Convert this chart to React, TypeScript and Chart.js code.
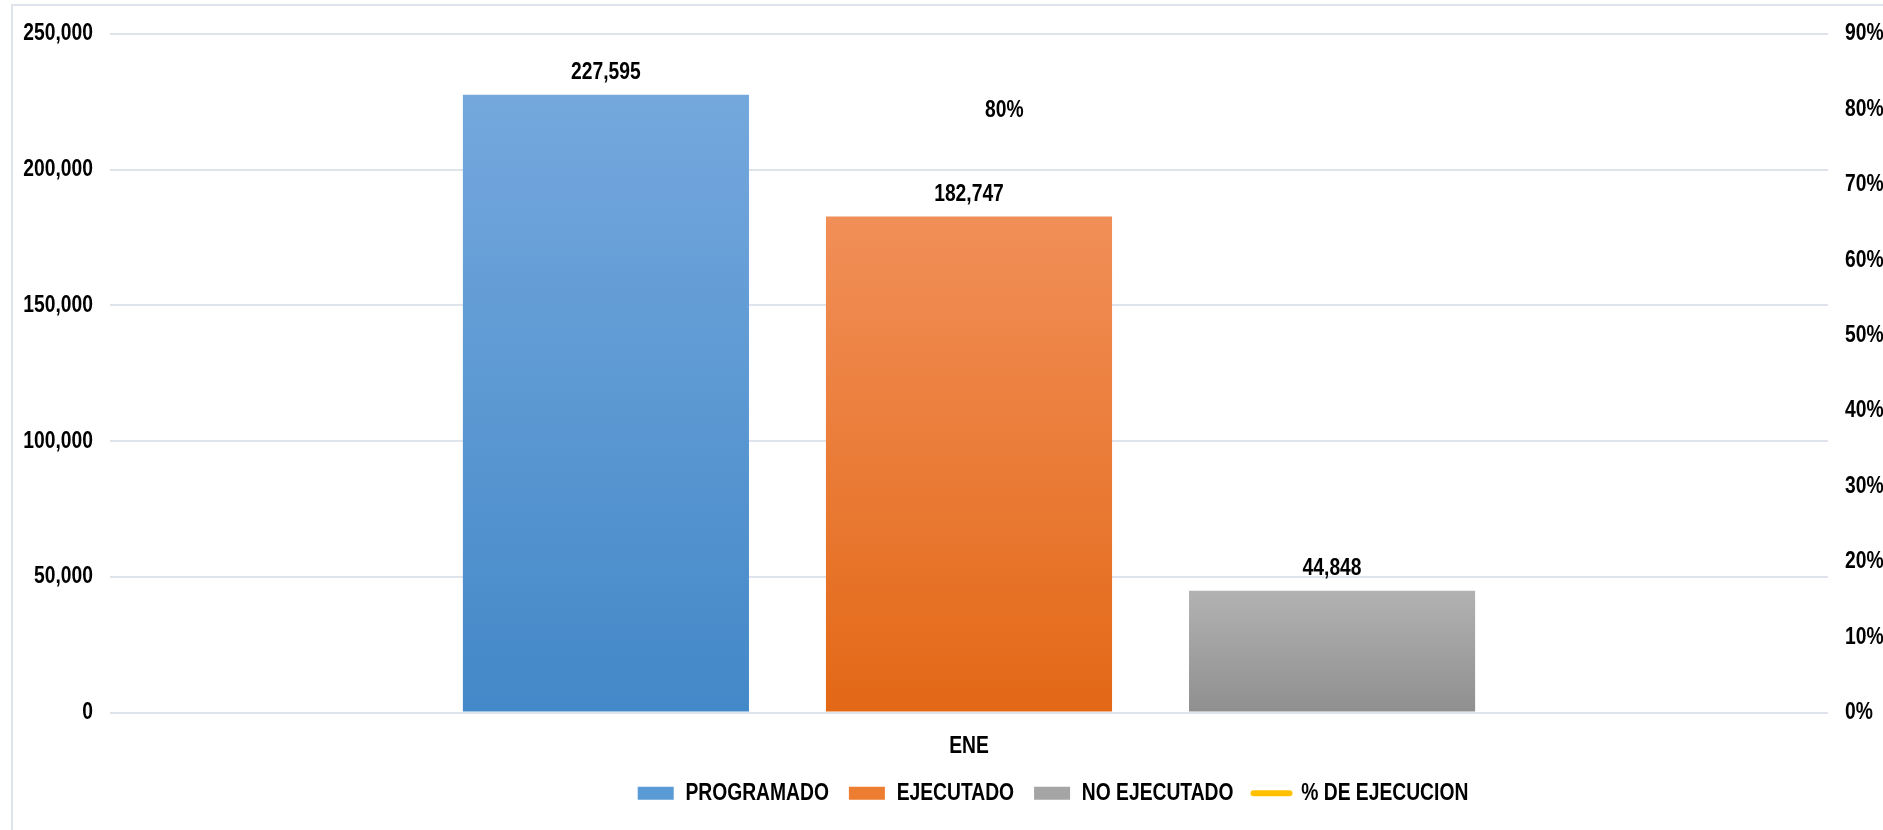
import React, { useEffect, useRef } from 'react';
import { Chart, registerables } from 'chart.js';

Chart.register(...registerables);

// ---- data ----
const categories = ['ENE'];
const programado = [227595];
const ejecutado = [182747];
const noEjecutado = [44848];
const pctEjecucion = [80.3];
const leftTicks = [0, 50000, 100000, 150000, 200000, 250000];
const rightTicks = [0, 10, 20, 30, 40, 50, 60, 70, 80, 90];
const seriesNames = ['PROGRAMADO', 'EJECUTADO', 'NO EJECUTADO', '% DE EJECUCION'];

// ---- styles ----
const FONT_FAMILY = "'Liberation Sans', Arial, sans-serif";
const FONT_SIZE = 23.5;
const NARROW = 0.82; // horizontal condensing to imitate Arial Narrow
const GRID_COLOR = '#dfe3eb';
const LEGEND_CENTER_X = 1053;

const barColors = [
  { top: '#74a8dd', bottom: '#4388c8', solid: '#5b9bd5' },
  { top: '#f18f58', bottom: '#e36816', solid: '#ed7d31' },
  { top: '#b2b2b2', bottom: '#8f8f8f', solid: '#a5a5a5' },
];
const lineColor = '#ffc000';

function barGradient(i: number) {
  return (ctx: any) => {
    const chart = ctx.chart;
    const area = chart.chartArea;
    const c = barColors[i];
    if (!area || ctx.type !== 'data' || !chart.scales || !chart.scales.y) return c.solid;
    const yTop = chart.scales.y.getPixelForValue(ctx.raw);
    if (!isFinite(yTop) || Math.abs(area.bottom - yTop) < 1) return c.solid;
    const g = chart.ctx.createLinearGradient(0, yTop, 0, area.bottom);
    g.addColorStop(0, c.top);
    g.addColorStop(1, c.bottom);
    return g;
  };
}

function condenseContext(ctx: any) {
  if (ctx.__condensed) return;
  ctx.__condensed = true;
  const origFill = ctx.fillText.bind(ctx);
  const origMeasure = ctx.measureText.bind(ctx);
  ctx.fillText = (text: string, x: number, y: number, maxWidth?: number) => {
    ctx.save();
    ctx.translate(x, y);
    ctx.scale(NARROW, 1);
    if (maxWidth === undefined || maxWidth === null) origFill(text, 0, 0);
    else origFill(text, 0, 0, maxWidth / NARROW);
    ctx.restore();
  };
  ctx.measureText = (text: string) => {
    const m = origMeasure(text);
    return {
      width: m.width * NARROW,
      actualBoundingBoxAscent: m.actualBoundingBoxAscent,
      actualBoundingBoxDescent: m.actualBoundingBoxDescent,
      actualBoundingBoxLeft: m.actualBoundingBoxLeft * NARROW,
      actualBoundingBoxRight: m.actualBoundingBoxRight * NARROW,
      fontBoundingBoxAscent: m.fontBoundingBoxAscent,
      fontBoundingBoxDescent: m.fontBoundingBoxDescent,
    };
  };
}

const valueLabels = {
  id: 'valueLabels',
  afterDatasetsDraw(chart: any) {
    const ctx = chart.ctx;
    ctx.save();
    ctx.font = `bold ${FONT_SIZE}px ${FONT_FAMILY}`;
    ctx.fillStyle = '#000';
    chart.data.datasets.forEach((ds: any, di: number) => {
      const meta = chart.getDatasetMeta(di);
      if (meta.hidden) return;
      meta.data.forEach((el: any, i: number) => {
        const v = ds.data[i] as number;
        if (meta.type === 'bar') {
          ctx.textAlign = 'center';
          ctx.textBaseline = 'alphabetic';
          ctx.fillText(v.toLocaleString('en-US'), el.x, el.y - 16);
        } else {
          ctx.textAlign = 'left';
          ctx.textBaseline = 'middle';
          ctx.fillText(Math.round(v) + '%', el.x + 16, el.y + 3);
        }
      });
    });
    ctx.restore();
  },
};

const legendShift = {
  id: 'legendShift',
  afterLayout(chart: any) {
    const lg = chart.legend;
    if (!lg) return;
    const d = LEGEND_CENTER_X - (lg.left + lg.right) / 2;
    lg.left += d;
    lg.right += d;
  },
};

export default function App() {
  const canvasRef = useRef<HTMLCanvasElement | null>(null);

  useEffect(() => {
    const canvas = canvasRef.current;
    if (!canvas) return;
    const c2d = canvas.getContext('2d');
    if (c2d) condenseContext(c2d);
    const font = { family: FONT_FAMILY, size: FONT_SIZE, weight: 'bold' as const };

    const chart = new Chart(canvas, {
      type: 'bar',
      data: {
        labels: categories,
        datasets: [
          { type: 'bar', label: seriesNames[0], data: programado, backgroundColor: barGradient(0), yAxisID: 'y', order: 1 },
          { type: 'bar', label: seriesNames[1], data: ejecutado, backgroundColor: barGradient(1), yAxisID: 'y', order: 1 },
          { type: 'bar', label: seriesNames[2], data: noEjecutado, backgroundColor: barGradient(2), yAxisID: 'y', order: 1 },
          {
            type: 'line',
            label: seriesNames[3],
            data: pctEjecucion,
            yAxisID: 'y1',
            borderColor: lineColor,
            backgroundColor: lineColor,
            borderWidth: 6,
            pointRadius: 0,
            pointHoverRadius: 0,
            order: 0,
          } as any,
        ],
      },
      options: {
        responsive: false,
        animation: false,
        layout: { padding: { top: 34, bottom: 15, left: 0, right: 0 } },
        datasets: { bar: { categoryPercentage: 0.634, barPercentage: 0.788 } } as any,
        plugins: {
          tooltip: { enabled: false },
          legend: {
            position: 'bottom',
            labels: {
              font,
              color: '#000',
              usePointStyle: true,
              pointStyleWidth: 36,
              boxWidth: 36,
              boxHeight: 13,
              padding: 20,
              generateLabels: (ch: any) =>
                ch.data.datasets.map((ds: any, i: number) => {
                  const isLine = ds.type === 'line';
                  return {
                    text: ds.label,
                    datasetIndex: i,
                    fillStyle: isLine ? lineColor : barColors[i].solid,
                    strokeStyle: isLine ? lineColor : barColors[i].solid,
                    lineWidth: isLine ? 6 : 0,
                    lineCap: 'round',
                    pointStyle: isLine ? 'line' : 'rect',
                    fontColor: '#000',
                    hidden: false,
                  };
                }),
            },
          },
        },
        scales: {
          x: {
            grid: { display: false, drawTicks: false },
            border: { display: false },
            ticks: { font, color: '#000', padding: 20 },
            afterFit: (s: any) => { s.height = 49; },
          },
          y: {
            position: 'left',
            min: 0,
            max: 250000,
            grid: { color: GRID_COLOR, lineWidth: 2, drawTicks: false },
            border: { display: false },
            ticks: {
              font,
              color: '#000',
              padding: 17,
              callback: (v: any) => Number(v).toLocaleString('en-US'),
            },
            afterBuildTicks: (s: any) => { s.ticks = leftTicks.map((v) => ({ value: v })); },
            afterFit: (s: any) => { s.width = 110; },
          },
          y1: {
            position: 'right',
            min: 0,
            max: 90,
            grid: { display: false, drawTicks: false },
            border: { display: false },
            ticks: {
              font,
              color: '#000',
              padding: 17,
              callback: (v: any) => `${v}%`,
            },
            afterBuildTicks: (s: any) => { s.ticks = rightTicks.map((v) => ({ value: v })); },
            afterFit: (s: any) => { s.width = 55; },
          },
        } as any,
      },
      plugins: [valueLabels, legendShift],
    });

    return () => chart.destroy();
  }, []);

  return (
    <div style={{ position: 'fixed', left: 0, top: 0, width: 1883, height: 830, overflow: 'hidden', background: '#fff' }}>
      <div
        style={{
          position: 'absolute',
          left: 11,
          top: 4,
          width: 1920,
          height: 900,
          border: `2px solid ${GRID_COLOR}`,
          boxSizing: 'border-box',
        }}
      />
      <canvas
        ref={canvasRef}
        width={1883}
        height={830}
        style={{ position: 'absolute', left: 0, top: 0, width: 1883, height: 830 }}
      />
    </div>
  );
}
